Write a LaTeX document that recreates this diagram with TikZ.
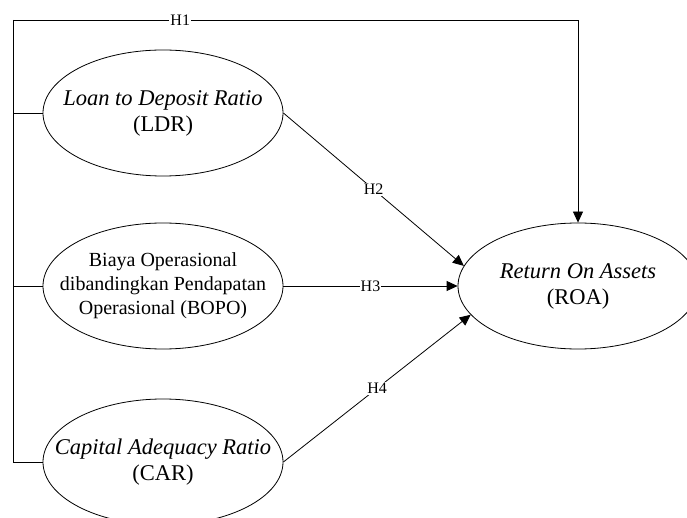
\documentclass[tikz,border=0pt]{standalone}
\usepackage{fontspec}
\setmainfont{Liberation Serif}
\usetikzlibrary{arrows.meta}
\usetikzlibrary{shapes.geometric}

\begin{document}
\begin{tikzpicture}[x=1pt, y=-1pt, line width=0.8pt, >={Triangle[length=11pt,width=10pt]},
	var/.style={draw, ellipse, minimum width=240pt, minimum height=126pt, inner sep=0pt},
	vtxt/.style={align=center, inner sep=0pt, font=\fontsize{22.5}{26}\selectfont},
	lbl/.style={fill=white, inner sep=1pt, font=\fontsize{16}{18}\selectfont}]
	\clip (0,0) rectangle (687,518);

	% --- variables ---
	\node[var, label={[vtxt]center:\textit{Loan to Deposit Ratio}\\(LDR)}] (ldr) at (163,113) {};
	\node[var, label={[vtxt, font=\fontsize{20}{24}\selectfont]center:Biaya Operasional\\dibandingkan Pendapatan\\Operasional (BOPO)}] (bopo) at (163,286) {};
	\node[var, label={[vtxt]center:\textit{Capital Adequacy Ratio}\\(CAR)}] (car) at (163,462) {};
	\node[var, label={[vtxt]center:\textit{Return On Assets}\\(ROA)}] (roa) at (578,286) {};

	% --- bus ---
	\coordinate (bustop) at (13,20);
	\draw (bustop) -- (bustop |- car.west);
	\draw (ldr.west) -- (ldr.west -| bustop);
	\draw (bopo.west) -- (bopo.west -| bustop);
	\draw (car.west) -- (car.west -| bustop);

	% --- hypotheses ---
	\draw[->] (bustop) -- node[lbl, pos=0.296] {H1} (bustop -| roa.north) -- (roa.north);
	\draw[->] (ldr.east) -- node[lbl] {H2} (roa.170);
	\draw[->] (bopo.east) -- node[lbl] {H3} (roa.west);
	\draw[->] (car.east) -- node[lbl] {H4} (roa.195);

\end{tikzpicture}
\end{document}
